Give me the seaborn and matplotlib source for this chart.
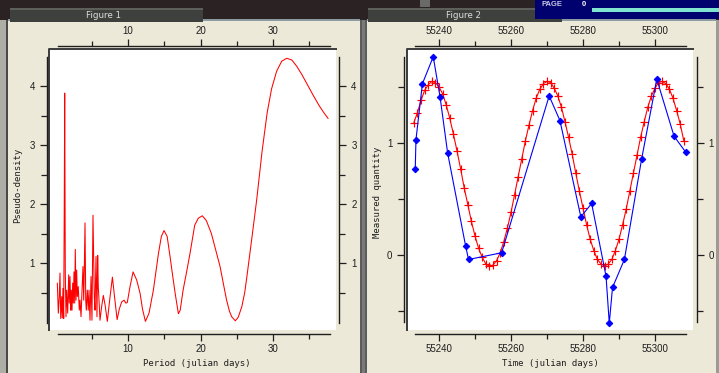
import matplotlib
matplotlib.use("Agg")
import matplotlib.pyplot as plt
import seaborn as sns
import pandas as pd
from matplotlib.patches import Rectangle

# ---------------- data: Figure 1 (pseudo-density vs period) ----------------
period = [0.25, 0.39, 0.52, 0.62, 0.72, 0.86, 0.94, 1.03, 1.13, 1.21, 1.27, 1.35,
          1.45, 1.54, 1.68, 1.82, 1.90, 2.00, 2.10, 2.18, 2.28, 2.37, 2.46, 2.55,
          2.65, 2.73, 2.83, 2.92, 3.01, 3.14, 3.28, 3.38, 3.52, 3.66, 3.79, 3.89,
          3.97, 4.07, 4.17, 4.25, 4.39, 4.52, 4.62, 4.76, 4.90, 5.03, 5.17, 5.27,
          5.35, 5.45, 5.59, 5.72, 5.82, 5.90, 6.00, 6.14,
          6.35, 6.60, 6.85, 7.15, 7.45, 7.85, 8.15, 8.50, 8.80, 9.13, 9.45, 9.72,
          9.90, 10.28, 10.70, 11.20, 11.66, 12.00, 12.40, 12.90, 13.50, 14.20,
          14.60, 14.97, 15.40, 15.80, 16.20, 16.50, 16.95, 17.20, 17.60, 18.10,
          18.55, 19.20, 19.70, 20.25, 20.80, 21.50, 22.10, 22.70, 23.20, 23.60,
          24.00, 24.30, 24.80, 25.20, 25.70, 26.10, 26.40, 27.05, 27.75, 28.50,
          29.20, 29.80, 30.50, 31.20, 31.90, 32.60, 33.30, 34.00, 34.80, 35.60,
          36.40, 37.00, 37.60]
density = [0.66, 0.15, 0.43, 0.83, 0.06, 0.43, 0.07, 0.57, 0.06, 2.00, 3.88, 0.83,
           0.09, 0.54, 0.15, 0.80, 0.32, 0.77, 0.20, 0.54, 0.20, 0.66, 0.32, 0.85,
           0.32, 1.23, 0.37, 0.88, 0.43, 0.60, 0.20, 0.37, 0.09, 0.54, 0.94, 0.37,
           0.88, 1.68, 0.37, 0.20, 0.54, 0.20, 0.54, 0.03, 0.77, 0.03, 1.81, 1.05,
           0.43, 0.20, 1.11, 0.09, 1.13, 0.60, 0.37, 0.03,
           0.25, 0.45, 0.28, 0.01, 0.35, 0.76, 0.42, 0.04, 0.22, 0.34, 0.37, 0.32,
           0.33, 0.60, 0.85, 0.71, 0.49, 0.22, 0.01, 0.15, 0.54, 1.16,
           1.45, 1.55, 1.45, 1.11, 0.75, 0.49, 0.14, 0.20, 0.54, 0.86,
           1.16, 1.64, 1.76, 1.80, 1.72, 1.50, 1.22, 0.94, 0.62, 0.37,
           0.18, 0.09, 0.02, 0.08, 0.26, 0.50, 0.77, 1.39, 2.07, 2.90,
           3.55, 3.95, 4.25, 4.42, 4.47, 4.44, 4.33, 4.19, 4.01, 3.83,
           3.66, 3.55, 3.45]

# ---------------- data: Figure 2 (measured quantity vs time) ----------------
time_obs = [55233.4, 55233.6, 55235.4, 55238.4, 55240.3, 55242.4, 55247.4, 55248.2,
            55257.4, 55270.6, 55273.6, 55279.4, 55282.4, 55286.4, 55287.3, 55288.2,
            55291.5, 55296.3, 55300.5, 55305.3, 55308.5]
meas_obs = [0.765, 1.03, 1.53, 1.77, 1.41, 0.91, 0.08, -0.04,
            0.02, 1.42, 1.20, 0.34, 0.46, -0.19, -0.61, -0.29,
            -0.04, 0.86, 1.57, 1.06, 0.92]

time_fit = [55233, 55234, 55235, 55236, 55237, 55238, 55239, 55240, 55241, 55242,
            55243, 55244, 55245, 55246, 55247, 55248, 55249, 55250, 55251, 55252,
            55253, 55254, 55255, 55256, 55257, 55258, 55259, 55260, 55261, 55262,
            55263, 55264, 55265, 55266, 55267, 55268, 55269, 55270, 55271, 55272,
            55273, 55274, 55275, 55276, 55277, 55278, 55279, 55280, 55281, 55282,
            55283, 55284, 55285, 55286, 55287, 55288, 55289, 55290, 55291, 55292,
            55293, 55294, 55295, 55296, 55297, 55298, 55299, 55300, 55301, 55302,
            55303, 55304, 55305, 55306, 55307, 55308]
meas_fit = [1.18, 1.27, 1.38, 1.47, 1.52, 1.55, 1.54, 1.50, 1.44, 1.34,
            1.22, 1.08, 0.93, 0.77, 0.60, 0.45, 0.30, 0.17, 0.06, -0.02,
            -0.08, -0.10, -0.09, -0.05, 0.02, 0.12, 0.24, 0.38, 0.54, 0.70,
            0.86, 1.02, 1.16, 1.29, 1.40, 1.48, 1.53, 1.55, 1.54, 1.49,
            1.42, 1.32, 1.19, 1.05, 0.90, 0.73, 0.57, 0.42, 0.27, 0.14,
            0.04, -0.04, -0.08, -0.10, -0.08, -0.04, 0.04, 0.14, 0.27, 0.41,
            0.57, 0.73, 0.89, 1.05, 1.19, 1.32, 1.42, 1.49, 1.54, 1.55,
            1.53, 1.48, 1.40, 1.29, 1.17, 1.02]

# ticks
p_major = [10, 20, 30]
p_minor = [5, 15, 25, 35]
d_major = [1, 2, 3, 4]
d_minor = [0.5, 1.5, 2.5, 3.5]
t_major = [55240, 55260, 55280, 55300]
t_minor = [55250, 55270, 55290]
m_major = [0, 1]
m_minor = [-0.5, 0.5, 1.5]

sns.set_style("white")
plt.rcParams['font.family'] = ['Liberation Sans', 'DejaVu Sans']

W, H = 719, 373
BEIGE = '#ece9d8'
fig = plt.figure(figsize=(W / 100, H / 100), dpi=100, facecolor=BEIGE)

# ---------------- window chrome (pixel coordinates) ----------------
bg = fig.add_axes([0, 0, 1, 1], zorder=-5)
bg.set_xlim(0, W)
bg.set_ylim(H, 0)
bg.axis('off')
def rect(x, y, w, h, c):
    bg.add_patch(Rectangle((x, y), w, h, facecolor=c, edgecolor='none'))
rect(0, 0, W, 20, '#2b2323')
rect(8, 20, 352, 353, BEIGE)
rect(367, 20, 349, 353, BEIGE)
rect(8, 19, 352, 2, '#8d9ba3')
rect(367, 19, 349, 2, '#8d9ba3')
rect(0, 20, 6, 353, '#aeaea6')
rect(6, 20, 2, 353, '#4a4a4a')
rect(360, 20, 7, 353, '#5c5c5c')
rect(362, 20, 3, 353, '#7a7a7a')
rect(716, 20, 3, 353, '#9c9c94')
# tabs
for x0, w, label, cx in [(10, 193, 'Figure 1', 103), (368, 194, 'Figure 2', 464)]:
    rect(x0, 8, w, 14, '#3e403d')
    rect(x0, 8, w, 2, '#5d5f5b')
    bg.text(cx, 15.2, label, color='#dcdcdc', fontsize=6.3, ha='center', va='center',
            family='DejaVu Sans')
# other window at top right
rect(535, 0, 184, 19, '#00006e')
rect(592, 8, 127, 4, '#7fe3cf')
bg.text(552, 4, 'PAGE', color='#c8c8e8', fontsize=5.5, ha='center', va='center', weight='bold')
bg.text(584, 4, '0', color='#ffffff', fontsize=5.5, ha='center', va='center', weight='bold')
rect(420, 0, 10, 7, '#6a6a6a')
# sunken frame shadow of plot areas
bg.plot([48.8, 48.8, 337], [331, 48.8, 48.8], color='#3c3c3c', lw=1.4, solid_capstyle='butt')
bg.plot([406.8, 406.8, 694], [331, 48.8, 48.8], color='#3c3c3c', lw=1.4, solid_capstyle='butt')

def px_axes(x0, y0, x1, y1):
    return fig.add_axes([x0 / W, 1 - y1 / H, (x1 - x0) / W, (y1 - y0) / H])

def style(ax, xlim, ylim, xb, yb, out, xmaj, xmin, ymaj, ymin, lpad):
    ax.set_facecolor('white')
    ax.set_xlim(*xlim)
    ax.set_ylim(*ylim)
    for side in ['top', 'bottom', 'left', 'right']:
        sp = ax.spines[side]
        sp.set_visible(True)
        sp.set_color('#1e1e1e')
        sp.set_linewidth(1.0)
        sp.set_position(('outward', out[side]))
        sp.set_bounds(*(xb if side in ('top', 'bottom') else yb))
    ax.set_xticks(xmaj)
    ax.set_xticklabels([str(v) for v in xmaj])
    ax.set_xticks(xmin, minor=True)
    ax.set_yticks(ymaj)
    ax.set_yticklabels([str(v) for v in ymaj])
    ax.set_yticks(ymin, minor=True)
    ax.tick_params(which='both', direction='out', color='#1e1e1e', width=0.9,
                   top=True, bottom=True, left=True, right=True,
                   labeltop=True, labelbottom=True, labelleft=True, labelright=True,
                   labelsize=7, labelcolor='#1e1e1e')
    ax.tick_params(which='major', length=5)
    ax.tick_params(which='minor', length=3.4)
    ax.tick_params(axis='y', which='minor', length=4)
    ax.tick_params(axis='x', which='major', pad=2.2)
    ax.tick_params(axis='y', which='major', pad=lpad)
    ax.grid(False)

# ---------------- Figure 1 ----------------
ax1 = px_axes(50, 50, 336, 330)
df1 = pd.DataFrame({'period': period, 'density': density})
sns.lineplot(data=df1, x='period', y='density', ax=ax1, color='#ff0000', lw=0.75,
             estimator=None, sort=False)
style(ax1, ((50 - 55.5) / 7.25, (336 - 55.5) / 7.25), ((322 - 330) / 59, (322 - 50) / 59),
      (0.34, 37.9), (-0.02, 4.49),
      {'top': 2.9, 'bottom': 3.1, 'left': 2.4, 'right': 2.4},
      p_major, p_minor, d_major, d_minor, 3.6)
ax1.set_xlabel('Period (julian days)', family='DejaVu Sans Mono', fontsize=6.5,
               color='#1e1e1e', va='center')
ax1.xaxis.set_label_coords((197 - 50) / 286, (330 - 363) / 280)
ax1.set_ylabel('Pseudo-density', family='DejaVu Sans Mono', fontsize=6.5,
               color='#1e1e1e', va='center')
ax1.yaxis.set_label_coords((18 - 50) / 286, (330 - 185) / 280)

# ---------------- Figure 2 ----------------
ax2 = px_axes(408, 50, 693, 330)
df_fit = pd.DataFrame({'time': time_fit, 'value': meas_fit})
df_obs = pd.DataFrame({'time': time_obs, 'value': meas_obs})
sns.lineplot(data=df_fit, x='time', y='value', ax=ax2, color='#ff0000', lw=0.8,
             marker='+', markersize=5.5, markeredgewidth=0.85, markeredgecolor='#ff0000',
             estimator=None, sort=False)
sns.lineplot(data=df_obs, x='time', y='value', ax=ax2, color='#0000ff', lw=0.8,
             marker='D', markersize=3.3, markeredgecolor='#0000ff', markerfacecolor='#0000ff',
             estimator=None, sort=False)
style(ax2, (55240 + (408 - 439) / 3.6, 55240 + (693 - 439) / 3.6),
      ((255 - 330) / 112, (255 - 50) / 112),
      (55233.3, 55308.6), (-0.60, 1.77),
      {'top': 2.9, 'bottom': 3.1, 'left': 2.7, 'right': 2.7},
      t_major, t_minor, m_major, m_minor, 3.6)
ax2.set_xlabel('Time (julian days)', family='DejaVu Sans Mono', fontsize=6.5,
               color='#1e1e1e', va='center')
ax2.xaxis.set_label_coords((550 - 408) / 285, (330 - 363) / 280)
ax2.set_ylabel('Measured quantity', family='DejaVu Sans Mono', fontsize=6.5,
               color='#1e1e1e', va='center')
ax2.yaxis.set_label_coords((378 - 408) / 285, (330 - 192) / 280)

fig.savefig('out.png', dpi=100, facecolor=fig.get_facecolor())
